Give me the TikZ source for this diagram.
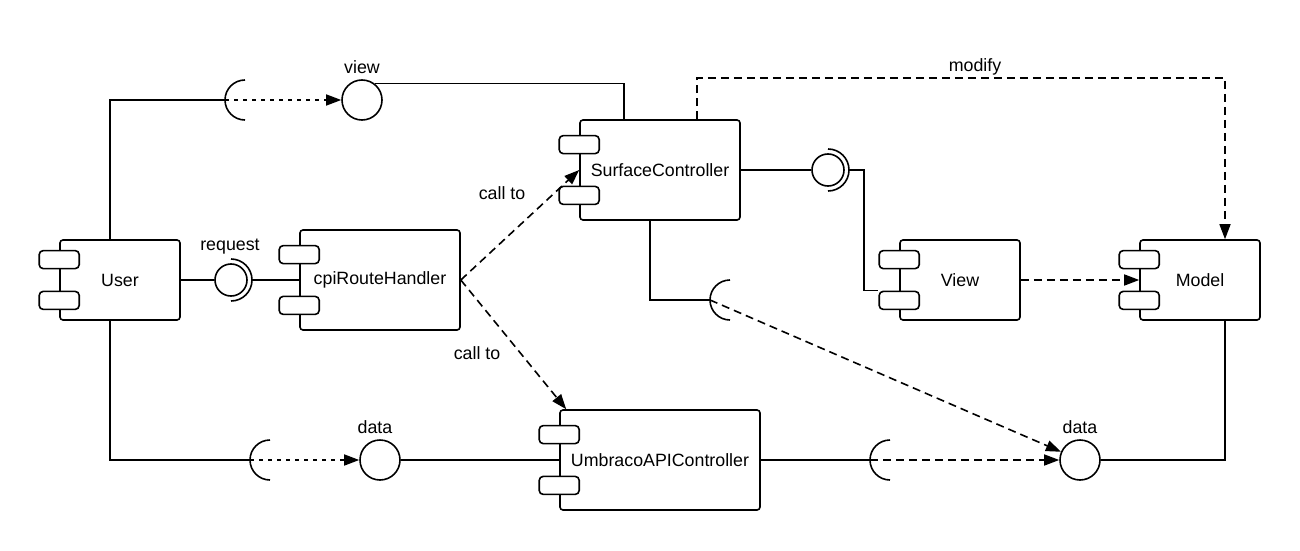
\documentclass[tikz,border=0pt]{standalone}
\usepackage{fontspec}
\setmainfont{Liberation Sans}
\usetikzlibrary{arrows.meta,calc}

\tikzset{
  comp/.style={draw,fill=white,rounded corners=3pt,inner sep=0pt},
  tabbox/.style={draw,fill=white,rounded corners=4pt,minimum width=40pt,minimum height=18pt,inner sep=0pt},
  ball/.style={draw,circle,fill=white,inner sep=0pt},
  lbl/.style={inner sep=1pt},
  dashline/.style={dash pattern=on 8pt off 5pt,-{Triangle[length=15pt,width=11pt]}},
  dotline/.style={dash pattern=on 4pt off 5pt,-{Triangle[length=15pt,width=11pt]}},
}

\begin{document}
\begin{tikzpicture}[x=1pt,y=1pt,line width=1.6pt,font=\fontsize{17.8}{21}\selectfont]
\useasboundingbox (0,0) rectangle (1300,550);

% components
\node[comp,minimum width=120pt,minimum height=80pt] (user) at (120,270) {User};
\node[comp,minimum width=160pt,minimum height=100pt] (cpi) at (380,270) {cpiRouteHandler};
\node[comp,minimum width=160pt,minimum height=100pt] (surface) at (660,380) {SurfaceController};
\node[comp,minimum width=120pt,minimum height=80pt] (view) at (960,270) {View};
\node[comp,minimum width=120pt,minimum height=80pt] (model) at (1200,270) {Model};
\node[comp,minimum width=200pt,minimum height=100pt] (umbraco) at (660,90) {UmbracoAPIController};
\foreach \b in {user,cpi,surface,view,model,umbraco}{
  \node[tabbox] (\b-t1) at ($(\b.west)!0.5!(\b.north west)$) {};
  \node[tabbox] (\b-t2) at ($(\b.west)!0.5!(\b.south west)$) {};
}

% interfaces
\node[ball,minimum size=40pt] (viewball) at (362,450) {};
\node[ball,minimum size=40pt] (umbball) at (380,90) {};
\node[ball,minimum size=40pt] (databall) at (1080,90) {};
\node[ball,minimum size=32pt] (reqball) at (231,270) {};
\node[ball,minimum size=32pt] (surfball) at (828,380) {};
\foreach \s/\x/\y in {vsock/225/450,dsock/250/90,ssock/710/250,usock/870/90}{
  \coordinate (\s) at (\x,\y);
  \draw (\s) ++(20,20) arc[start angle=90,end angle=270,radius=20];
}
\foreach \s in {reqball,surfball}{
  \coordinate (\s-s) at ($(\s.center)+(21,0)$);
  \draw (\s.center) ++(0,21) arc[start angle=90,end angle=-90,radius=21];
}

% labels
\node[lbl] (viewlbl) at (362,483) {view};
\node[lbl] (reqlbl) at (230,303) {request};
\node[lbl] (datalbl1) at (375,123) {data};
\node[lbl] (datalbl2) at (1080,123) {data};
\node[lbl] (call1) at (502,357) {call to};
\node[lbl] (call2) at (477,197) {call to};
\node[lbl] (modlbl) at (975,483) {modify};
\coordinate (mod) at (975,472);

% connectors
\draw ($(user.north)+(-10,0)$) |- (vsock);
\draw[dotline] (vsock) -- (viewball);
\draw (viewball.53) -| ($(surface.north)+(-36,0)$);
\draw[dashline] ($(surface.north)+(37,0)$) |- (mod) -| ($(model.north)+(25,0)$);
\draw (user.east) -- (reqball);
\draw (reqball-s) -- (cpi.west);
\draw (surface.east) -- (surfball);
\draw (surfball-s) -- ++(15,0) |- (view-t2.north west);
\draw[dashline] (view.east) -- (model.west);
\draw ($(model.south)+(25,0)$) |- (databall);
\draw[dashline] (cpi.east) -- (surface.west);
\draw[dashline] (cpi.east) -- ($(umbraco.north west)+(7,0)$);
\draw ($(surface.south)+(-10,0)$) |- (ssock);
\draw[dashline] (ssock) -- (databall);
\draw ($(user.south)+(-10,0)$) |- (dsock);
\draw[dotline] (dsock) -- (umbball);
\draw (umbball) -- (umbraco.west);
\draw (umbraco.east) -- (usock);
\draw[dashline] (usock) -- (databall);
\end{tikzpicture}
\end{document}
